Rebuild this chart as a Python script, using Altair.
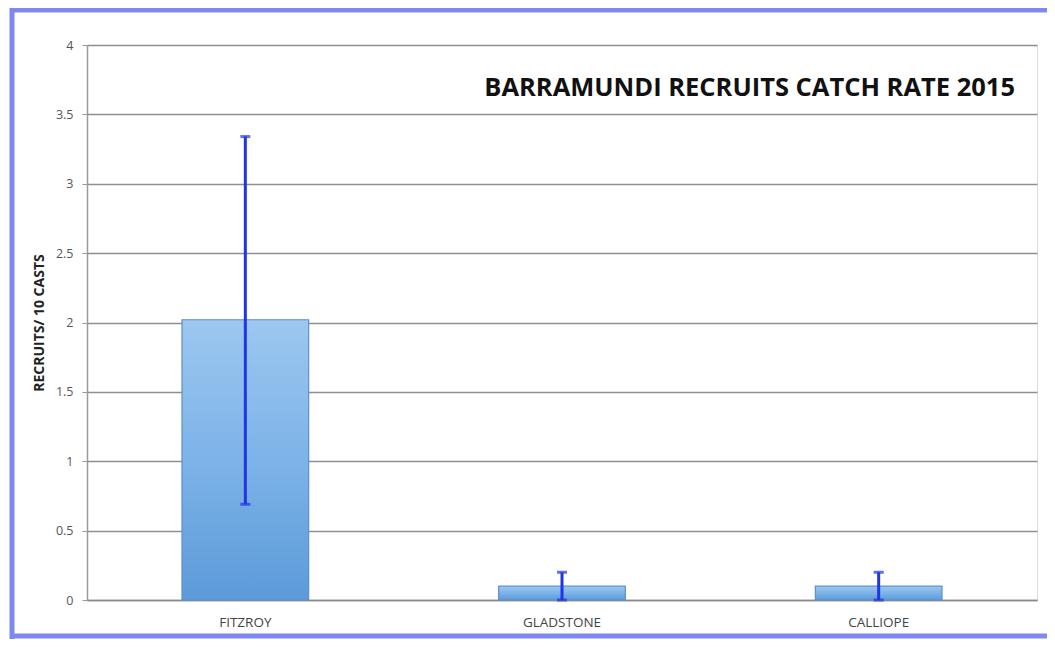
import altair as alt
import pandas as pd

sites = ["FITZROY", "GLADSTONE", "CALLIOPE"]
rate = [2.02, 0.10, 0.10]
err_lo = [0.69, 0.0, 0.0]
err_hi = [3.34, 0.20, 0.20]
y_ticks = [0, 0.5, 1, 1.5, 2, 2.5, 3, 3.5, 4]
title_text = "BARRAMUNDI RECRUITS CATCH RATE 2015"

df = pd.DataFrame({"site": sites, "rate": rate, "lo": err_lo, "hi": err_hi})

W, H = 950, 555
BORDER = "#7f88ee"

x_enc = alt.X("site:N", sort=sites,
              scale=alt.Scale(paddingInner=0.6, paddingOuter=0.3),
              axis=alt.Axis(title=None, labelAngle=0, ticks=False, grid=False,
                            labelPadding=15, labelFontSize=13.5, labelColor="#444444",
                            labelFont="Open Sans", domainColor="#8a8a8a", domainWidth=1.5))
y_scale = alt.Scale(domain=[0, 4], nice=False)

base = alt.Chart(df)

bars = base.mark_bar(
    stroke="#5d8fcf", strokeWidth=1.2,
    color=alt.Gradient(gradient="linear",
                       stops=[alt.GradientStop(color="#9cc7f0", offset=0),
                              alt.GradientStop(color="#7db3e8", offset=0.5),
                              alt.GradientStop(color="#5c9ad9", offset=1)],
                       x1=0, x2=0, y1=0, y2=1)
).encode(
    x=x_enc,
    y=alt.Y("rate:Q", scale=y_scale,
            axis=alt.Axis(values=y_ticks, format="~g", title="RECRUITS/ 10 CASTS",
                          titleFontSize=14, titleFont="Open Sans", titleFontWeight="bold",
                          titleColor="#222222", titlePadding=9,
                          labelFontSize=12.5, labelColor="#555555", labelFont="Open Sans",
                          tickSize=5, tickColor="#999999", labelPadding=9,
                          grid=True, gridColor="#8f8f8f", gridWidth=1.5,
                          domainColor="#9a9a9a", domainWidth=1.5)),
)

rules = base.mark_rule(color="#1f35e6", strokeWidth=3).encode(
    x=alt.X("site:N", sort=sites), y=alt.Y("lo:Q", scale=y_scale), y2="hi:Q")
cap_hi = base.mark_tick(color="#1f35e6", thickness=3, size=10, orient="horizontal").encode(
    x=alt.X("site:N", sort=sites), y=alt.Y("hi:Q", scale=y_scale))
cap_lo = base.mark_tick(color="#1f35e6", thickness=3, size=10, orient="horizontal").encode(
    x=alt.X("site:N", sort=sites), y=alt.Y("lo:Q", scale=y_scale))

title = alt.Chart(pd.DataFrame({"t": [title_text]})).mark_text(
    font="Open Sans", fontWeight="bold", fontSize=25.5, color="#111111",
    align="right", baseline="middle"
).encode(text="t:N", x=alt.value(928), y=alt.value(43))

one = pd.DataFrame({"a": [0]})
b_left = alt.Chart(one).mark_rule(color=BORDER, strokeWidth=5).encode(
    x=alt.value(-75), y=alt.value(-37), y2=alt.value(600))
b_top = alt.Chart(one).mark_rule(color=BORDER, strokeWidth=5).encode(
    x=alt.value(-77), x2=alt.value(1000), y=alt.value(-35))
b_bot = alt.Chart(one).mark_rule(color=BORDER, strokeWidth=5).encode(
    x=alt.value(-77), x2=alt.value(1000), y=alt.value(591))

chart = alt.layer(bars, rules, cap_hi, cap_lo, title, b_left, b_top, b_bot).properties(
    width=W, height=H,
    autosize=alt.AutoSizeParams(type="none"),
    padding={"left": 79, "top": 37, "right": 10, "bottom": 39},
).configure_view(stroke=None).configure(background="white")

chart.save("out.html", embed_options={"renderer": "svg", "actions": False})
